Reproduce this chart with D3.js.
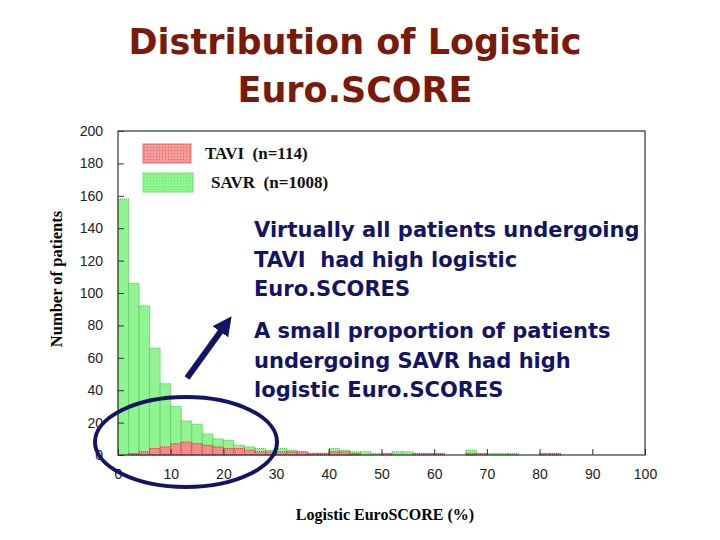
<!DOCTYPE html>
<html>
<head>
<meta charset="utf-8">
<script src="https://cdn.jsdelivr.net/npm/d3@7"></script>
<style>
  html, body { margin: 0; padding: 0; background: #fff; }
  svg { display: block; }
  text { white-space: pre; }
</style>
</head>
<body>
<div id="chart"></div>
<script>
// bins are 2 % wide, starting at 0
const binStart = [0, 2, 4, 6, 8, 10, 12, 14, 16, 18, 20, 22, 24, 26, 28, 30, 32, 34, 36, 38,
                  40, 42, 44, 46, 48, 50, 52, 54, 56, 58, 60, 62, 64, 66, 68, 70, 72, 74, 76, 78,
                  80, 82, 84, 86, 88, 90, 92, 94, 96, 98];
const savrCounts = [158, 106, 92, 66, 44, 30, 21, 19, 13, 10, 9, 6, 5, 4, 3, 4, 3, 2, 1, 1,
                    4, 3, 2, 2, 1, 0, 2, 2, 0, 0, 0, 0, 0, 3, 0, 1, 1, 1, 0, 0,
                    0, 0, 0, 0, 0, 0, 0, 0, 0, 0];
const taviCounts = [0, 1, 2, 4, 5, 7, 8, 7, 6, 5, 4, 4, 3, 2, 2, 2, 2, 2, 1, 1,
                    2, 2, 1, 0, 0, 1, 0, 0, 1, 1, 1, 0, 0, 1, 1, 0, 0, 0, 0, 0,
                    1, 1, 0, 0, 0, 0, 0, 0, 0, 0];
const binWidth = 2;

const xTicks = [0, 10, 20, 30, 40, 50, 60, 70, 80, 90, 100];
const yTicks = [0, 20, 40, 60, 80, 100, 120, 140, 160, 180, 200];

const legendLabels = ["TAVI  (n=114)", "SAVR  (n=1008)"];
const titleLines = ["Distribution of Logistic", "Euro.SCORE"];
const noteTavi = ["Virtually all patients undergoing", "TAVI  had high logistic", "Euro.SCORES"];
const noteSavr = ["A small proportion of patients", "undergoing SAVR had high", "logistic Euro.SCORES"];

const width = 720, height = 540;
const navy = "#141466";

const svg = d3.select("#chart").append("svg")
    .attr("width", width)
    .attr("height", height);

const defs = svg.append("defs");
function dotPattern(id, base, dot) {
  const p = defs.append("pattern")
      .attr("id", id)
      .attr("width", 3).attr("height", 3)
      .attr("patternUnits", "userSpaceOnUse");
  p.append("rect").attr("width", 3).attr("height", 3).attr("fill", base);
  p.append("rect").attr("width", 1).attr("height", 1).attr("fill", dot);
}
dotPattern("redFill", "#f59a9a", "#e26060");
dotPattern("greenFill", "#8ff58f", "#6fe06f");

const x = d3.scaleLinear().domain([0, 100]).range([118, 645]);
const y = d3.scaleLinear().domain([0, 200]).range([455, 131]);

// title
svg.append("g")
    .attr("font-family", "Tahoma, 'DejaVu Sans', sans-serif")
    .attr("font-weight", "bold")
    .attr("font-size", 35)
    .attr("fill", "#7a1a0a")
    .attr("text-anchor", "middle")
  .selectAll("text")
  .data(titleLines)
  .join("text")
    .attr("x", 355)
    .attr("y", (d, i) => 54 + i * 48)
    .text(d => d);

// bars
const plot = svg.append("g");
function drawBars(counts, fill, stroke) {
  plot.append("g")
    .selectAll("rect")
    .data(binStart.map((s, i) => ({s, v: counts[i]})).filter(d => d.v > 0))
    .join("rect")
      .attr("x", d => x(d.s))
      .attr("y", d => y(d.v))
      .attr("width", d => x(d.s + binWidth) - x(d.s))
      .attr("height", d => y(0) - y(d.v))
      .attr("fill", fill)
      .attr("stroke", stroke)
      .attr("stroke-width", 1)
      .attr("stroke-dasharray", "1,1");
}
drawBars(savrCounts, "#90f590", "#3fc23f");
drawBars(taviCounts, "#f58a8a", "#c43030");

// frame
svg.append("rect")
    .attr("x", x(0)).attr("y", y(200))
    .attr("width", x(100) - x(0)).attr("height", y(0) - y(200))
    .attr("fill", "none")
    .attr("stroke", "#333")
    .attr("stroke-width", 1.2);

// axes with inside ticks
const xAxis = svg.append("g")
    .attr("transform", `translate(0,${y(0)})`)
    .call(d3.axisBottom(x).tickValues(xTicks).tickSizeInner(-6).tickSizeOuter(0).tickPadding(14));
const yAxis = svg.append("g")
    .attr("transform", `translate(${x(0)},0)`)
    .call(d3.axisLeft(y).tickValues(yTicks).tickSizeInner(-6).tickSizeOuter(0).tickPadding(15));
[xAxis, yAxis].forEach(a => {
  a.select(".domain").remove();
  a.selectAll("line").attr("stroke", "#333");
  a.selectAll("text")
      .attr("font-family", "'Liberation Sans', Arial, sans-serif")
      .attr("font-size", 14)
      .attr("fill", "#222");
});

// axis titles
svg.append("text")
    .attr("transform", "translate(62,279) rotate(-90)")
    .attr("text-anchor", "middle")
    .attr("font-family", "'Liberation Serif', 'Times New Roman', serif")
    .attr("font-weight", "bold")
    .attr("font-size", 16.5)
    .text("Number of patients");
svg.append("text")
    .attr("x", 385).attr("y", 520)
    .attr("text-anchor", "middle")
    .attr("font-family", "'Liberation Serif', 'Times New Roman', serif")
    .attr("font-weight", "bold")
    .attr("font-size", 16)
    .text("Logistic EuroSCORE (%)");

// legend
const legend = svg.append("g");
legend.append("rect")
    .attr("x", 143).attr("y", 144).attr("width", 48).attr("height", 19)
    .attr("fill", "url(#redFill)").attr("stroke", "#e07070");
legend.append("rect")
    .attr("x", 143).attr("y", 173).attr("width", 50).attr("height", 19)
    .attr("fill", "url(#greenFill)").attr("stroke", "#70e070");
legend.selectAll("text")
  .data(legendLabels)
  .join("text")
    .attr("x", (d, i) => i === 0 ? 205 : 211)
    .attr("y", (d, i) => 159 + i * 29)
    .attr("font-family", "'Liberation Serif', 'Times New Roman', serif")
    .attr("font-weight", "bold")
    .attr("font-size", 17)
    .attr("fill", "#111")
    .text(d => d);

// annotations
const notes = svg.append("g")
    .attr("font-family", "Verdana, 'DejaVu Sans', sans-serif")
    .attr("font-weight", "bold")
    .attr("font-size", 21)
    .attr("fill", navy);
notes.selectAll("text.a")
  .data(noteTavi)
  .join("text")
    .attr("class", "a")
    .attr("x", 254)
    .attr("y", (d, i) => 237 + i * 29.5)
    .text(d => d);
notes.selectAll("text.b")
  .data(noteSavr)
  .join("text")
    .attr("class", "b")
    .attr("x", 254)
    .attr("y", (d, i) => 338 + i * 29.5)
    .text(d => d);

// arrow
defs.append("marker")
    .attr("id", "head")
    .attr("viewBox", "0 0 10 10")
    .attr("refX", 5).attr("refY", 5)
    .attr("markerWidth", 3.2).attr("markerHeight", 3.2)
    .attr("orient", "auto")
  .append("path")
    .attr("d", "M0,0 L10,5 L0,10 Z")
    .attr("fill", navy);
svg.append("line")
    .attr("x1", 187).attr("y1", 378)
    .attr("x2", 226).attr("y2", 324)
    .attr("stroke", navy)
    .attr("stroke-width", 6)
    .attr("marker-end", "url(#head)");

// ellipse
svg.append("ellipse")
    .attr("cx", 186).attr("cy", 442)
    .attr("rx", 91).attr("ry", 45)
    .attr("fill", "none")
    .attr("stroke", navy)
    .attr("stroke-width", 4);
</script>
</body>
</html>
